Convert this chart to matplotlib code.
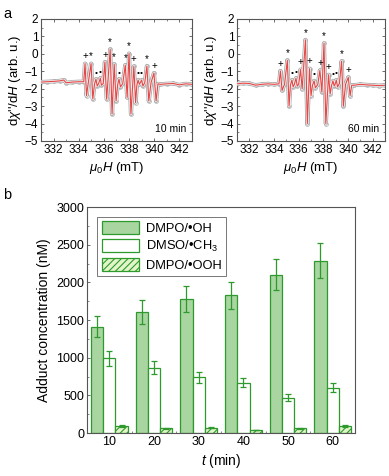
import matplotlib
matplotlib.use("Agg")
import matplotlib.pyplot as plt
import matplotlib.patheffects as pe
from matplotlib.ticker import MultipleLocator
import numpy as np

plt.rcParams['font.family'] = ['Liberation Sans', 'DejaVu Sans']
plt.rcParams['mathtext.fontset'] = 'custom'
plt.rcParams['mathtext.rm'] = 'Liberation Sans'
plt.rcParams['mathtext.it'] = 'Liberation Sans:italic'
plt.rcParams['hatch.linewidth'] = 0.8

# ---------------- data: EPR spectra (vertices) -------------
field_10 = [331.0, 331.5, 332.0, 332.5, 332.8, 333.0, 333.5, 334.0, 334.4,
            334.50, 334.62, 334.75, 334.98, 335.12, 335.25, 335.37, 335.47,
            335.58, 335.72, 335.80, 335.95, 336.08, 336.22, 336.50, 336.65,
            336.82, 336.97, 337.10, 337.20, 337.32, 337.50, 337.70, 337.85,
            338.00, 338.15, 338.38, 338.52, 338.62, 338.72, 338.82, 338.90,
            339.00, 339.10, 339.25, 339.42, 339.57, 339.75, 339.98, 340.15,
            340.30, 340.5, 341.0, 341.5, 342.0, 342.5, 343.0]
signal_10 = [-1.62, -1.60, -1.58, -1.55, -1.50, -1.66, -1.62, -1.60, -1.60,
             -0.56, -2.40, -1.70, -0.56, -2.59, -1.75, -1.45, -1.85,
             -1.70, -1.40, -1.80, -1.70, -0.47, -2.60, 0.25, -3.45,
             -0.60, -2.70, -1.75, -1.45, -1.90, -1.70, -0.65, -2.50,
             0.02, -3.45, -0.72, -2.80, -1.80, -1.50, -1.75, -1.65,
             -1.50, -1.85, -1.65, -0.70, -2.70, -1.65, -1.10, -2.70,
             -1.72, -1.75, -1.72, -1.70, -1.78, -1.72, -1.75]

field_60 = [331.0, 331.5, 332.0, 332.5, 333.0, 333.5, 334.0, 334.4,
            334.52, 334.65, 334.85, 335.08, 335.22, 335.33, 335.45, 335.55,
            335.65, 335.78, 335.88, 336.00, 336.15, 336.28, 336.55, 336.70,
            336.88, 337.00, 337.12, 337.25, 337.35, 337.55, 337.72, 337.88,
            338.05, 338.20, 338.42, 338.55, 338.67, 338.78, 338.88, 338.95,
            339.05, 339.15, 339.30, 339.48, 339.62, 339.80, 340.02, 340.17,
            340.30, 340.5, 341.0, 341.5, 342.0, 342.5, 343.0]
signal_60 = [-1.72, -1.68, -1.70, -1.80, -1.75, -1.72, -1.75, -1.72,
             -0.99, -2.10, -1.75, -0.38, -3.00, -1.80, -1.50, -1.90,
             -1.75, -1.40, -1.85, -1.75, -0.90, -2.00, 0.80, -4.00,
             -0.85, -2.40, -1.80, -1.55, -1.95, -1.75, -0.95, -2.20,
             0.60, -4.00, -1.20, -2.30, -1.80, -1.55, -1.85, -1.75,
             -1.50, -1.90, -1.70, -0.42, -3.00, -1.75, -1.35, -2.40,
             -1.80, -1.80, -1.75, -1.78, -1.80, -1.82, -1.80]

# peak annotations (position, height, symbol)
marks_10_x = [334.50, 334.98, 335.37, 335.72, 336.08, 336.50, 336.82, 337.20,
              337.70, 338.00, 338.38, 338.72, 339.00, 339.42, 339.98]
marks_10_y = [-0.56, -0.56, -1.45, -1.40, -0.47, 0.25, -0.60, -1.45,
              -0.65, 0.02, -0.72, -1.50, -1.50, -0.70, -1.10]
marks_10_s = ['+', '*', '•', '•', '+', '*', '*', '•', '*', '*', '+', '•', '•', '*', '+']

marks_60_x = [334.52, 335.08, 335.45, 335.78, 336.15, 336.55, 336.88, 337.25,
              337.72, 338.05, 338.42, 338.78, 339.05, 339.48, 340.02]
marks_60_y = [-0.99, -0.38, -1.50, -1.40, -0.90, 0.80, -0.85, -1.55,
              -0.95, 0.60, -1.20, -1.55, -1.50, -0.42, -1.35]
marks_60_s = ['+', '*', '•', '•', '+', '*', '+', '•', '+', '*', '+', '•', '•', '*', '+']

# ---------------- data: adduct concentrations ----------------
times = [10, 20, 30, 40, 50, 60]
dmpo_oh = [1410, 1610, 1780, 1830, 2100, 2290]
dmpo_oh_err = [140, 160, 175, 180, 205, 230]
dmso_ch3 = [990, 865, 740, 670, 470, 600]
dmso_ch3_err = [100, 85, 70, 65, 50, 60]
dmpo_ooh = [90, 65, 70, 40, 65, 90]
dmpo_ooh_err = [10, 8, 10, 6, 8, 10]

fig = plt.figure(figsize=(3.89, 4.76), dpi=100)

GREEN = '#2e9a2e'
SPINE = '#555555'


def style_axes(ax, size):
    for s in ax.spines.values():
        s.set_color(SPINE)
        s.set_linewidth(0.8)
    ax.tick_params(which='both', direction='in', top=True, right=True,
                   color=SPINE, labelsize=size, pad=2)
    ax.tick_params(which='major', length=2.5, width=0.6)
    ax.tick_params(which='minor', length=1.5, width=0.5)


def spectrum(ax, fx, fy, mx, my, ms, label):
    ax.plot(fx, fy, color='#e84545', lw=0.8, zorder=3,
            path_effects=[pe.Stroke(linewidth=3.0, foreground='#a8a8a8'),
                          pe.Stroke(linewidth=1.9, foreground='#f2f2f2'),
                          pe.Normal()])
    ax.plot(fx, fy, ls='none', marker='o', ms=2.8, mfc='none', mec='#b0b0b0',
            mew=0.5, zorder=2)
    for x, y, s in zip(mx, my, ms):
        off = 0.42 if s != '•' else 0.35
        ax.text(x, y + off, s, ha='center', va='center', fontsize=7 if s != '•' else 6,
                color='black', zorder=4)
    ax.set_xlim(331, 343)
    ax.set_ylim(-5, 2)
    ax.xaxis.set_major_locator(MultipleLocator(2))
    ax.xaxis.set_minor_locator(MultipleLocator(1))
    ax.yaxis.set_major_locator(MultipleLocator(1))
    ax.yaxis.set_minor_locator(MultipleLocator(0.5))
    style_axes(ax, 8.5)
    ax.set_xlabel(r'$\mu_0H$ (mT)', fontsize=9.5, labelpad=3)
    ax.set_ylabel(r"d$\chi$''/d$H$ (arb. u.)", fontsize=9.5, labelpad=1)
    ax.text(0.96, 0.10, label, transform=ax.transAxes, ha='right', va='center',
            fontsize=7.5)


ax1 = fig.add_axes([0.1054, 0.7038, 0.388, 0.2563])
spectrum(ax1, field_10, signal_10, marks_10_x, marks_10_y, marks_10_s, '10 min')
ax2 = fig.add_axes([0.6093, 0.7038, 0.3805, 0.2563])
spectrum(ax2, field_60, signal_60, marks_60_x, marks_60_y, marks_60_s, '60 min')

# ---------------- bar chart ----------------
ax3 = fig.add_axes([0.2237, 0.0903, 0.689, 0.4748])
t = np.array(times, dtype=float)
w = 2.75
ekw = dict(ecolor=GREEN, elinewidth=0.9, capsize=2.5, capthick=0.9)
ax3.bar(t - w, dmpo_oh, w, yerr=dmpo_oh_err, color='#a8d5a0', edgecolor=GREEN,
        linewidth=0.9, error_kw=ekw, label='DMPO/•OH', zorder=2)
ax3.bar(t, dmso_ch3, w, yerr=dmso_ch3_err, color='white', edgecolor=GREEN,
        linewidth=0.9, error_kw=ekw, label='DMSO/•CH$_3$', zorder=2)
ax3.bar(t + w, dmpo_ooh, w, yerr=dmpo_ooh_err, color='#e2f5c8', edgecolor=GREEN,
        hatch='/////', linewidth=0.9, error_kw=ekw, label='DMPO/•OOH', zorder=2)
ax3.set_xlim(5, 65)
ax3.set_ylim(0, 3000)
ax3.set_xticks(times)
ax3.xaxis.set_minor_locator(MultipleLocator(5))
ax3.yaxis.set_major_locator(MultipleLocator(500))
ax3.yaxis.set_minor_locator(MultipleLocator(250))
style_axes(ax3, 9)
ax3.tick_params(which='both', top=False, right=False)
ax3.set_xlabel(r'$t$ (min)', fontsize=10, labelpad=3)
ax3.set_ylabel('Adduct concentration (nM)', fontsize=10, labelpad=4)
leg = ax3.legend(loc='upper left', bbox_to_anchor=(0.015, 0.985), fontsize=9.3,
                 handlelength=2.9, handleheight=1.15, handletextpad=0.5,
                 labelspacing=0.3, borderpad=0.35, fancybox=False,
                 edgecolor='#777777', framealpha=1)
leg.get_frame().set_linewidth(0.7)

fig.text(0.008, 0.985, 'a', fontsize=10.5, va='top', ha='left')
fig.text(0.008, 0.605, 'b', fontsize=10.5, va='top', ha='left')

fig.savefig('out.png', dpi=100)
